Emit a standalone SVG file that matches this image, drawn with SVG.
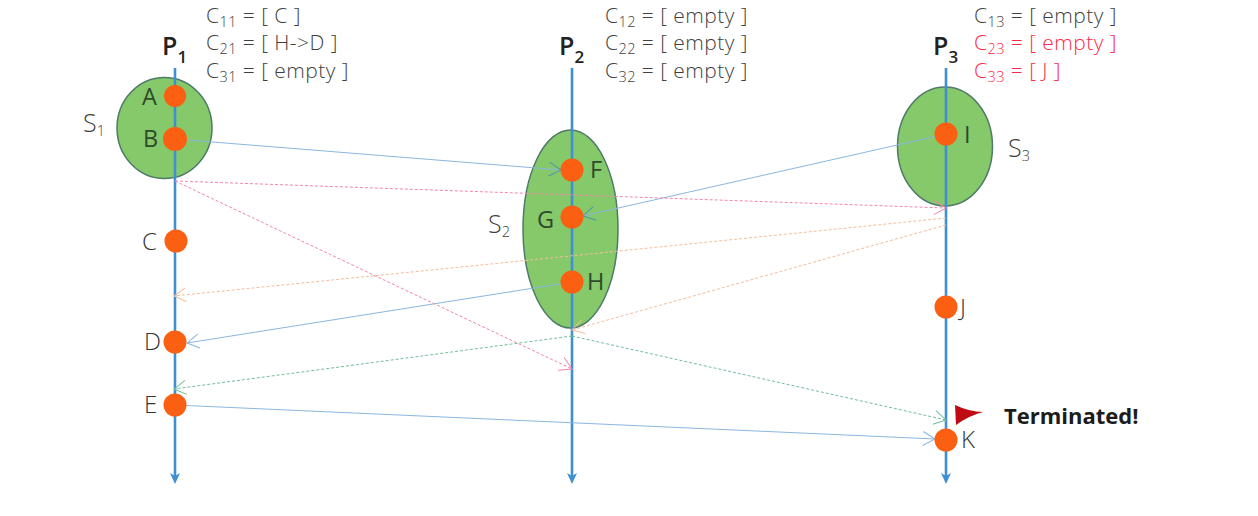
<svg xmlns="http://www.w3.org/2000/svg" width="1258" height="516" viewBox="0 0 1258 516">
<style>
text{font-family:"Open Sans","Noto Sans","Liberation Sans",sans-serif;fill:#3f3f3f;font-weight:300}
.region{fill:#85c96a;stroke:#4f7a68;stroke-width:1.5}
.axis{stroke:#3f8fd2;stroke-width:2.6;fill:none}
.dot{fill:#fb5f12}
.msg{fill:none;stroke-width:1}
.blue{stroke:#8ab6e0;marker-end:url(#aBlue)}
.blue2{stroke:#8ab6e0;marker-end:url(#aBlueOnGreen)}
.pink{stroke:#f585aa;stroke-dasharray:3 2;marker-end:url(#aPink)}
.orange{stroke:#f6bc9a;stroke-dasharray:3 2;marker-end:url(#aOrange)}
.green{stroke:#72bf98;stroke-dasharray:3 2;marker-end:url(#aGreen)}
.ev{font-size:23.500px;font-weight:400;fill:#2f4a2a}
.evo{font-size:24px;fill:#333}
.s{font-size:25px}
.sub{font-size:14.500px}
.clk{font-size:21px;letter-spacing:.45px}
.red{fill:#fb2c48}
.p{font-size:25px;font-weight:600;fill:#222}
.p .sub{font-size:17px;font-weight:600}
</style>
<defs>
<marker id="aBlue" markerUnits="userSpaceOnUse" markerWidth="18" markerHeight="18" refX="14" refY="9" orient="auto"><path d="M2 2L14 9L2 16" fill="none" stroke="#8ab6e0"/></marker>
<marker id="aBlueOnGreen" markerUnits="userSpaceOnUse" markerWidth="18" markerHeight="18" refX="14" refY="9" orient="auto"><path d="M2 2L14 9L2 16" fill="none" stroke="#4f97ae"/></marker>
<marker id="aPink" markerUnits="userSpaceOnUse" markerWidth="18" markerHeight="18" refX="14" refY="9" orient="auto"><path d="M2 2L14 9L2 16" fill="none" stroke="#f585aa"/></marker>
<marker id="aOrange" markerUnits="userSpaceOnUse" markerWidth="18" markerHeight="18" refX="14" refY="9" orient="auto"><path d="M2 2L14 9L2 16" fill="none" stroke="#f6bc9a"/></marker>
<marker id="aGreen" markerUnits="userSpaceOnUse" markerWidth="18" markerHeight="18" refX="14" refY="9" orient="auto"><path d="M2 2L14 9L2 16" fill="none" stroke="#72bf98"/></marker>
</defs>
<rect width="1258" height="516" fill="#fff"/>
<g id="S1"><ellipse class="region" cx="164.500" cy="128" rx="47.500" ry="50.500"/><text class="s" x="83" y="132">S<tspan class="sub" dy="4">1</tspan></text></g>
<g id="S2"><ellipse class="region" cx="570.500" cy="229" rx="47.500" ry="99"/><text class="s" x="488" y="233">S<tspan class="sub" dy="4">2</tspan></text></g>
<g id="S3"><ellipse class="region" cx="945" cy="146.500" rx="47.500" ry="59.500"/><text class="s" x="1008" y="157">S<tspan class="sub" dy="4">3</tspan></text></g>
<g id="axes">
<path class="axis" d="M175 68V478"/><path d="M170 473L175 484L180 473L175 476Z" fill="#3f8fd2"/>
<path class="axis" d="M572 68V478"/><path d="M567 473L572 484L577 473L572 476Z" fill="#3f8fd2"/>
<path class="axis" d="M946 68V478"/><path d="M941 473L946 484L951 473L946 476Z" fill="#3f8fd2"/>
</g>
<g id="connectors">
<path class="msg blue2" d="M175 139L561 170"/>
<path class="msg blue2" d="M946 134L583 216"/>
<path class="msg blue" d="M572 282L187 343"/>
<path class="msg blue" d="M175 405L935 439"/>
<path class="msg pink" d="M175 181L946 208"/>
<path class="msg pink" d="M175 181L572 369"/>
<path class="msg orange" d="M946 218L174 296"/>
<path class="msg orange" d="M946 225L572 330"/>
<path class="msg green" d="M572 336L174 389"/>
<path class="msg green" d="M572 336L946 420"/>
</g>
<g id="A"><circle class="dot" cx="175" cy="96" r="11"/><text class="ev" x="142" y="105">A</text></g>
<g id="B"><circle class="dot" cx="175" cy="139" r="12"/><text class="ev" x="143" y="147">B</text></g>
<g id="C"><circle class="dot" cx="176" cy="241" r="11.500"/><text class="evo" x="142" y="250">C</text></g>
<g id="D"><circle class="dot" cx="175" cy="342" r="11.500"/><text class="evo" x="144" y="350">D</text></g>
<g id="E"><circle class="dot" cx="175" cy="405" r="11.500"/><text class="evo" x="144" y="413">E</text></g>
<g id="F"><circle class="dot" cx="572" cy="170" r="11.500"/><text class="ev" x="590" y="178">F</text></g>
<g id="G"><circle class="dot" cx="572" cy="217" r="11.500"/><text class="ev" x="537" y="228">G</text></g>
<g id="H"><circle class="dot" cx="572" cy="282" r="11.500"/><text class="ev" x="587" y="290">H</text></g>
<g id="I"><circle class="dot" cx="946" cy="134" r="11.500"/><text class="ev" x="964" y="143">I</text></g>
<g id="J"><circle class="dot" cx="946" cy="307" r="11.500"/><text class="evo" x="960" y="316">J</text></g>
<g id="K"><circle class="dot" cx="946" cy="440" r="11.500"/><text class="evo" x="961" y="448">K</text></g>
<g id="P1"><text class="p" x="162" y="55">P<tspan class="sub" dy="8">1</tspan></text></g>
<g id="P2"><text class="p" x="559" y="55">P<tspan class="sub" dy="8">2</tspan></text></g>
<g id="P3"><text class="p" x="933" y="55">P<tspan class="sub" dy="8">3</tspan></text></g>
<g id="clocks1">
<text class="clk" x="206" y="22.500">C<tspan class="sub" dy="4">11</tspan><tspan dy="-4"> = [ C ]</tspan></text>
<text class="clk" x="206" y="49.500">C<tspan class="sub" dy="4">21</tspan><tspan dy="-4"> = [ H-&gt;D ]</tspan></text>
<text class="clk" x="206" y="77.500">C<tspan class="sub" dy="4">31</tspan><tspan dy="-4"> = [ empty ]</tspan></text>
</g>
<g id="clocks2">
<text class="clk" x="605" y="22.500">C<tspan class="sub" dy="4">12</tspan><tspan dy="-4"> = [ empty ]</tspan></text>
<text class="clk" x="605" y="49.500">C<tspan class="sub" dy="4">22</tspan><tspan dy="-4"> = [ empty ]</tspan></text>
<text class="clk" x="605" y="77.500">C<tspan class="sub" dy="4">32</tspan><tspan dy="-4"> = [ empty ]</tspan></text>
</g>
<g id="clocks3">
<text class="clk" x="974" y="22.500">C<tspan class="sub" dy="4">13</tspan><tspan dy="-4"> = [ empty ]</tspan></text>
<text class="clk red" x="974" y="49.500">C<tspan class="sub red" dy="4">23</tspan><tspan dy="-4"> = [ empty ]</tspan></text>
<text class="clk red" x="974" y="77.500">C<tspan class="sub red" dy="4">33</tspan><tspan dy="-4"> = [ J ]</tspan></text>
</g>
<g id="flag"><path d="M955 405Q970 412 983 412Q968 416 956 425Z" fill="#c00a14"/><text x="1004" y="424" font-size="22" style="font-weight:700;fill:#1c1c1c">Terminated!</text></g>
</svg>
